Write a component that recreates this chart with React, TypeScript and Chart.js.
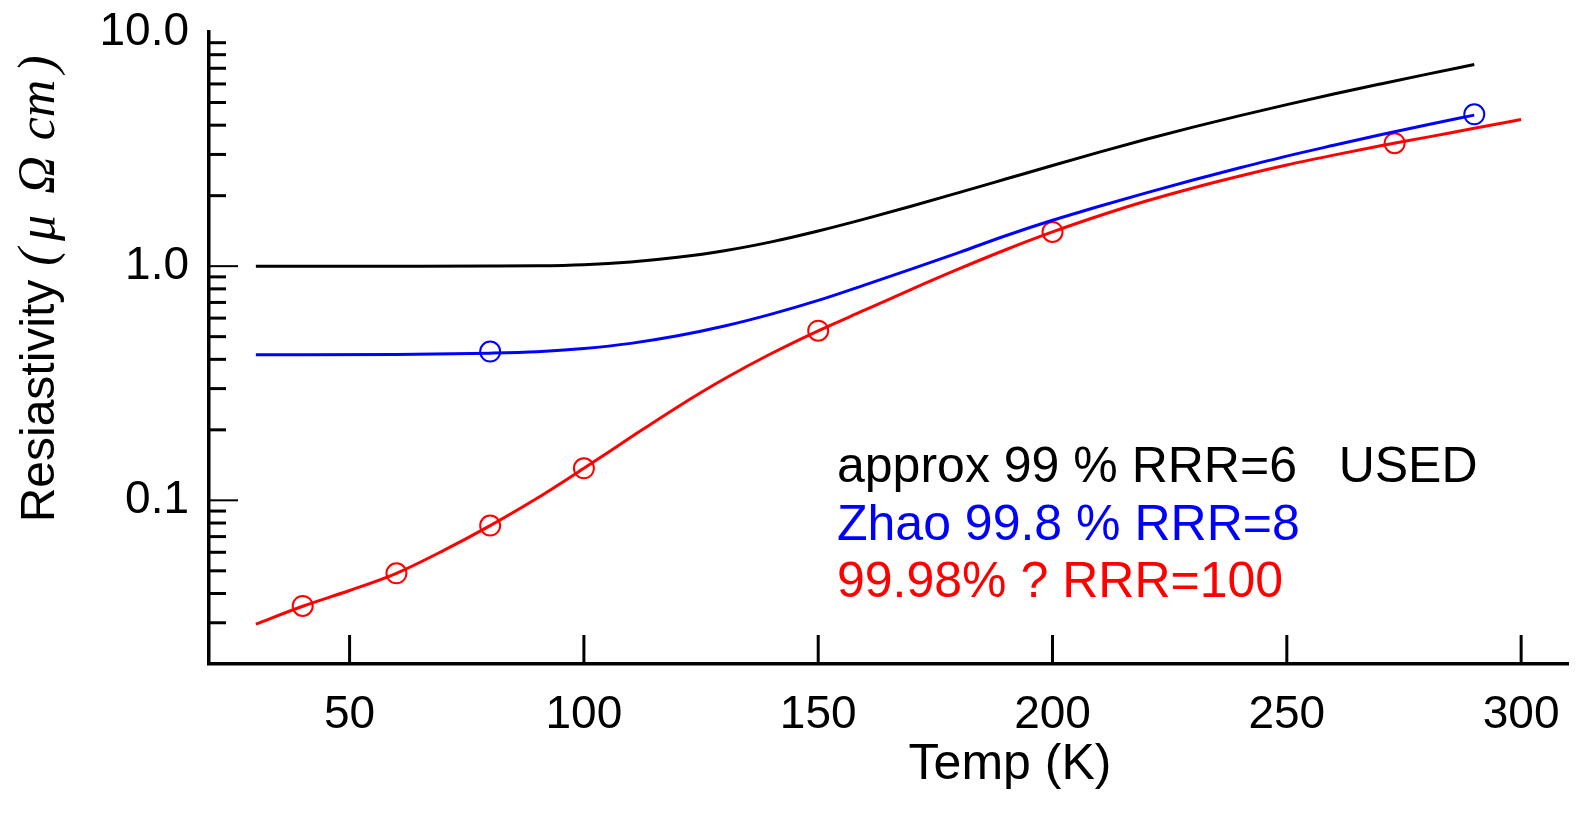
import React, { useEffect, useRef } from 'react';
import { Chart, registerables } from 'chart.js';

Chart.register(...registerables);

// ---- data (temperature in K, resistivity in µΩ·cm) ----
const blackT = [30, 60, 80, 90, 100, 110, 120, 130, 140, 150, 160, 170, 180, 190, 200, 210, 220, 230, 240, 250, 260, 270, 280, 290];
const blackRho = [1.0, 1.0, 1.001, 1.003, 1.014, 1.042, 1.091, 1.164, 1.27, 1.413, 1.592, 1.807, 2.061, 2.355, 2.692, 3.069, 3.483, 3.926, 4.395, 4.898, 5.433, 5.998, 6.607, 7.261];

const blueT = [30, 60, 80, 90, 100, 110, 120, 130, 140, 150, 160, 170, 180, 190, 200, 210, 220, 230, 240, 250, 260, 270, 280, 290];
const blueRho = [0.418, 0.42, 0.425, 0.431, 0.445, 0.468, 0.504, 0.555, 0.624, 0.714, 0.832, 0.973, 1.143, 1.349, 1.57, 1.803, 2.056, 2.333, 2.63, 2.951, 3.281, 3.638, 4.018, 4.416];

const redT = [30, 40, 50, 60, 70, 80, 90, 100, 110, 120, 130, 140, 150, 160, 170, 180, 190, 200, 210, 220, 230, 240, 250, 260, 270, 280, 290, 300];
const redRho = [0.0296, 0.0353, 0.0412, 0.0488, 0.061, 0.078, 0.102, 0.137, 0.1858, 0.2506, 0.3304, 0.4236, 0.5297, 0.65, 0.798, 0.973, 1.175, 1.4, 1.641, 1.897, 2.158, 2.427, 2.704, 2.979, 3.266, 3.556, 3.882, 4.227];

const redMarkT = [40, 60, 80, 100, 150, 200, 273];
const redMarkRho = [0.0354, 0.0488, 0.078, 0.137, 0.53, 1.4, 3.35];

const blueMarkT = [80, 290];
const blueMarkRho = [0.432, 4.45];

const xTicks = [50, 100, 150, 200, 250, 300];
const yMajorTicks = [0.1, 1, 10];
const yMajorLabels = ['0.1', '1.0', '10.0'];
const yMinorTicks = [0.03, 0.04, 0.05, 0.06, 0.07, 0.08, 0.09, 0.2, 0.3, 0.4, 0.5, 0.6, 0.7, 0.8, 0.9, 2, 3, 4, 5, 6, 7, 8, 9];

const legendLines = ['approx 99 % RRR=6   USED', 'Zhao 99.8 % RRR=8', '99.98% ? RRR=100'];
const legendColors = ['#000000', '#0000ff', '#ff0000'];

const xTitle = 'Temp (K)';
const yTitleWord = 'Resiastivity';
const yTitleMath = ['(', 'μ', 'Ω', 'cm', ')'];

const SANS = '"Liberation Sans", Arial, sans-serif';
const SERIF = '"Liberation Serif", "DejaVu Serif", serif';

const pts = (xs: number[], ys: number[]) => xs.map((x, i) => ({ x, y: ys[i] }));

const decorPlugin = {
  id: 'decor',
  afterDraw(chart: any) {
    const { ctx, chartArea, scales } = chart;
    const xs = scales.x;
    const ys = scales.y;
    const L = chartArea.left;
    const B = chartArea.bottom;
    ctx.save();
    ctx.strokeStyle = '#000';
    ctx.lineCap = 'butt';
    const seg = (x1: number, y1: number, x2: number, y2: number) => {
      ctx.beginPath();
      ctx.moveTo(x1, y1);
      ctx.lineTo(x2, y2);
      ctx.stroke();
    };
    // inward minor y ticks
    ctx.lineWidth = 3;
    for (const v of yMinorTicks) {
      const py = ys.getPixelForValue(v);
      seg(L, py, L + 17, py);
    }
    // inward major y ticks
    ctx.lineWidth = 2;
    for (const v of yMajorTicks) {
      if (v >= ys.max) continue;
      const py = ys.getPixelForValue(v);
      seg(L, py, L + 29, py);
    }
    // inward x ticks
    ctx.lineWidth = 3;
    for (const v of xTicks) {
      const px = xs.getPixelForValue(v);
      seg(px, B, px, B - 29);
    }

    // x title
    ctx.fillStyle = '#000';
    ctx.font = `50px ${SANS}`;
    ctx.textAlign = 'center';
    ctx.textBaseline = 'alphabetic';
    ctx.fillText(xTitle, 1010, 779);

    // y title (rotated)
    ctx.save();
    ctx.translate(54, 0);
    ctx.rotate(-Math.PI / 2);
    ctx.textAlign = 'center';
    ctx.textBaseline = 'alphabetic';
    ctx.font = `48px ${SANS}`;
    ctx.fillText(yTitleWord, -401, 0);
    ctx.font = `italic 52px ${SERIF}`;
    const mathCenters = [257, 228, 175, 110, 64];
    yTitleMath.forEach((s, i) => {
      ctx.fillText(s, -mathCenters[i], 0);
    });
    ctx.restore();

    // legend text
    ctx.font = `50px ${SANS}`;
    ctx.textAlign = 'left';
    ctx.textBaseline = 'alphabetic';
    const baselines = [482, 540, 597];
    legendLines.forEach((t, i) => {
      ctx.fillStyle = legendColors[i];
      ctx.fillText(t, 837, baselines[i]);
    });
    ctx.restore();
  },
};

export default function App() {
  const ref = useRef<HTMLCanvasElement | null>(null);

  useEffect(() => {
    if (!ref.current) return;
    const lineDs = (label: string, data: any[], color: string) => ({
      label,
      data,
      borderColor: color,
      backgroundColor: color,
      borderWidth: 3,
      pointRadius: 0,
      fill: false,
      cubicInterpolationMode: 'monotone' as const,
    });
    const markDs = (label: string, data: any[], color: string) => ({
      label,
      data,
      showLine: false,
      borderColor: color,
      backgroundColor: 'rgba(0,0,0,0)',
      pointRadius: 10,
      pointBorderWidth: 2,
      pointBorderColor: color,
      pointBackgroundColor: 'rgba(0,0,0,0)',
      pointStyle: 'circle',
    });
    const chart = new Chart(ref.current, {
      type: 'line',
      data: {
        datasets: [
          lineDs('approx 99 %', pts(blackT, blackRho), '#000000'),
          lineDs('Zhao 99.8 %', pts(blueT, blueRho), '#0000ff'),
          lineDs('99.98 %', pts(redT, redRho), '#ff0000'),
          markDs('Zhao data', pts(blueMarkT, blueMarkRho), '#0000ff'),
          markDs('99.98 % data', pts(redMarkT, redMarkRho), '#ff0000'),
        ],
      },
      options: {
        animation: false,
        responsive: false,
        events: [],
        layout: { autoPadding: false, padding: { left: 0, right: 8, top: 32, bottom: 0 } },
        plugins: {
          legend: { display: false },
          tooltip: { enabled: false },
          title: { display: false },
        },
        scales: {
          x: {
            type: 'linear',
            min: 20,
            max: 310,
            grid: { display: false, drawTicks: false },
            border: { display: true, color: '#000', width: 3.5 },
            ticks: {
              color: '#000',
              font: { family: SANS, size: 46 },
              padding: 24,
              maxRotation: 0,
              autoSkip: false,
            },
            afterBuildTicks: (s: any) => {
              s.ticks = xTicks.map((v) => ({ value: v }));
            },
            afterFit: (s: any) => {
              s.height = 156;
              s.paddingLeft = 0;
              s.paddingRight = 0;
            },
          },
          y: {
            type: 'logarithmic',
            min: 0.02,
            max: 10,
            grid: { display: false, drawTicks: false },
            border: { display: true, color: '#000', width: 3.5 },
            ticks: {
              color: '#000',
              font: { family: SANS, size: 46 },
              padding: 20,
              autoSkip: false,
              callback: (_v: any, i: number) => yMajorLabels[i],
            },
            afterBuildTicks: (s: any) => {
              s.ticks = yMajorTicks.map((v) => ({ value: v }));
            },
            afterFit: (s: any) => {
              s.width = 209;
              s.paddingTop = 0;
              s.paddingBottom = 0;
            },
          },
        },
      } as any,
      plugins: [decorPlugin],
    });
    return () => chart.destroy();
  }, []);

  return (
    <div style={{ position: 'absolute', left: 0, top: 0, width: 1576, height: 820, background: '#fff' }}>
      <canvas ref={ref} width={1576} height={820} style={{ width: 1576, height: 820, display: 'block' }} />
    </div>
  );
}
